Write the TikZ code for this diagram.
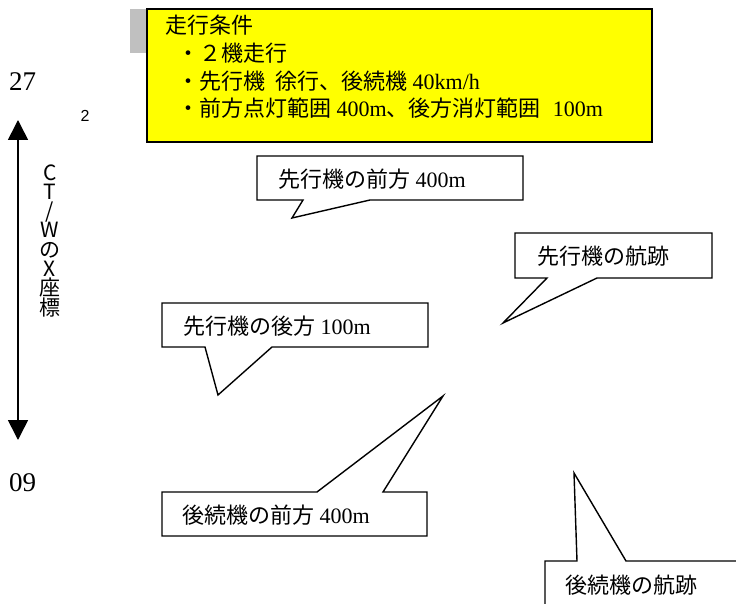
\documentclass[tikz,border=0pt]{standalone}
\usepackage{fontspec}
\setmainfont{Liberation Serif}
\newfontfamily\jp{Noto Sans CJK JP}
\newfontfamily\lsans{Liberation Sans}
\usetikzlibrary{arrows.meta}
\definecolor{ybox}{RGB}{255,255,0}
\definecolor{gbox}{RGB}{192,192,192}
\newcommand\J[1]{{\jp #1}}
\tikzset{
  lbl/.style={anchor=west,inner sep=0pt,font=\fontsize{22}{24}\selectfont},
  numlbl/.style={anchor=west,inner sep=0pt,font=\fontsize{27}{29}\selectfont},
  callout/.style={draw=black,fill=white,line width=1.4pt,line join=miter},
  axisarrow/.style={line width=1.6pt,{Triangle[width=20pt,length=20pt]}-{Triangle[width=20pt,length=20pt]}}
}
\begin{document}
\begin{tikzpicture}[x=1pt,y=-1pt]
\useasboundingbox (0,0) rectangle (736,604);
\clip (0,0) rectangle (736,604);
% title box
\fill[gbox] (130,9) rectangle (150,53);
\draw[fill=ybox,line width=2pt] (147,9) rectangle (652,142);
\node[lbl] (t0) at (165,25) {\J{走行条件}};
\node[lbl] (t1) at (177,53) {\J{・２機走行}};
\node[lbl] (t2) at (177,81) {\J{・先行機}\hspace{10pt}\J{徐行、後続機} 40km/h};
\node[lbl] (t3) at (177,108) {\J{・前方点灯範囲} 400m\J{、後方消灯範囲}\hspace{12pt}100m};
% axis
\node[numlbl] (n27) at (9,82) {27};
\node[numlbl] (n09) at (9,483) {09};
\node[inner sep=0pt,font=\lsans\fontsize{16}{17}\selectfont] (sup2) at (85,116) {2};
\coordinate (atop) at (18,120);
\coordinate (abot) at (18,440);
\draw[axisarrow] (atop) -- (abot);
\node[inner sep=0pt,align=center,font=\jp\fontsize{21}{19.2}\selectfont] (ax) at (50,241) {C\\T\\/\\W\\の\\X\\座\\標};
% callout 1
\draw[callout] (257,156) -- (523,156) -- (523,200) -- (370,200) -- (292,218) -- (303,200) -- (257,200) -- cycle;
\node[lbl] (c1) at (278,179) {\J{先行機の前方} 400m};
% callout 2
\draw[callout] (162,303) -- (428,303) -- (428,347) -- (272,347) -- (218,395) -- (205,347) -- (162,347) -- cycle;
\node[lbl] (c2) at (183,326) {\J{先行機の後方} 100m};
% callout 3
\draw[callout] (515,233) -- (712,233) -- (712,278) -- (597,278) -- (503,323) -- (547,278) -- (515,278) -- cycle;
\node[lbl] (c3) at (537,256) {\J{先行機の航跡}};
% callout 4
\draw[callout] (162,492) -- (317,492) -- (443,396) -- (383,492) -- (427,492) -- (427,536) -- (162,536) -- cycle;
\node[lbl] (c4) at (182,515) {\J{後続機の前方} 400m};
% callout 5
\draw[callout] (545,561) -- (577,561) -- (574,473) -- (626,561) -- (745,561) -- (745,615) -- (545,615) -- cycle;
\node[lbl] (c5) at (565,585) {\J{後続機の航跡}};
\end{tikzpicture}
\end{document}
